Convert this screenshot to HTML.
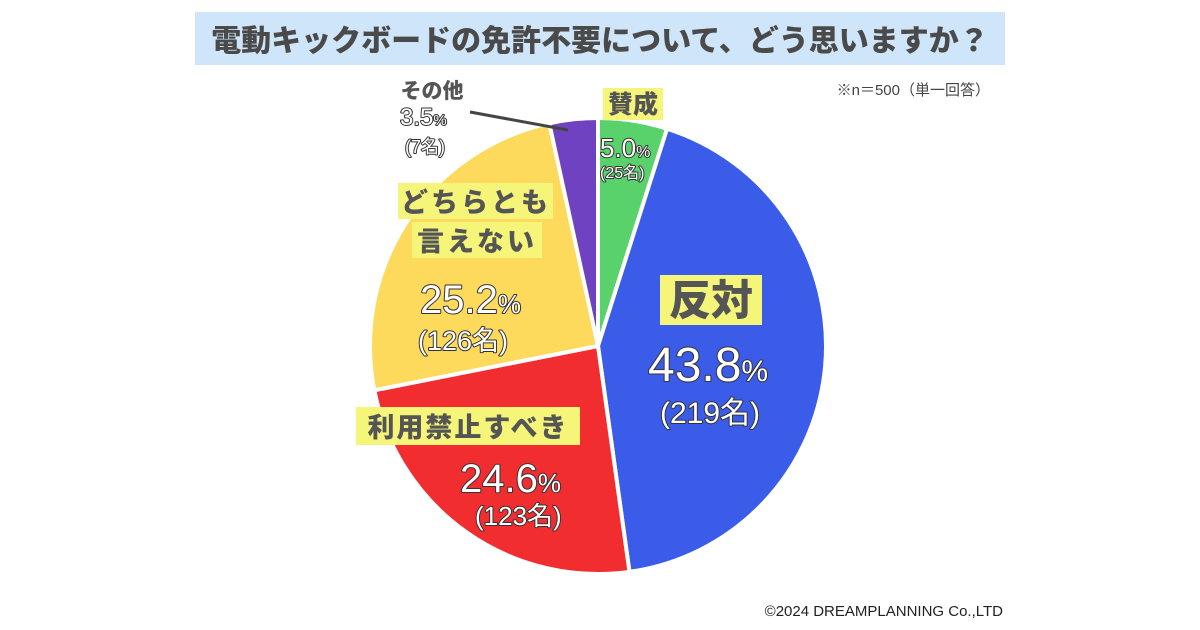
<!DOCTYPE html>
<html><head><meta charset="utf-8">
<style>
body{margin:0;width:1200px;height:630px;background:#fff;overflow:hidden;font-family:"Liberation Sans","Noto Sans CJK JP",sans-serif;}
svg{display:block}
.t{font-family:"Liberation Sans","Noto Sans CJK JP",sans-serif;}
.lab{font-weight:900;fill:#555;}
.num{fill:#fff;stroke:#333;stroke-width:2;paint-order:stroke;stroke-linejoin:round;}
</style></head><body>
<svg id="c" width="1200" height="630" viewBox="0 0 1200 630">
<rect x="195" y="12" width="810" height="53" fill="#cfe6fa"/>
<text class="t" x="600" y="51" text-anchor="middle" font-size="30" font-weight="900" fill="#4a4a4a">電動キックボードの免許不要について、どう思いますか？</text>
<text class="t" x="990" y="95" text-anchor="end" font-size="15" fill="#444">※n＝500（単一回答）</text>
<text class="t" x="1003" y="616" text-anchor="end" font-size="15" fill="#222">©2024 DREAMPLANNING Co.,LTD</text>
<g id="slices"></g>
<line x1="470" y1="112" x2="568" y2="130" stroke="#444" stroke-width="3"/>
<g id="labels">
<rect x="603" y="88" width="60" height="32" fill="#f5f57a"/>
<text class="t lab" x="633" y="113" text-anchor="middle" font-size="25">賛成</text>
<text class="t num" x="600" y="157" font-size="26">5.0<tspan font-size="16">%</tspan></text>
<text class="t num" x="600" y="178" font-size="16" stroke-width="2">(25名)</text>
<rect x="660" y="275" width="102" height="50" fill="#f5f57a"/>
<text class="t lab" x="711" y="315" text-anchor="middle" font-size="42">反対</text>
<text class="t num" x="648" y="381" font-size="48">43.8<tspan font-size="30">%</tspan></text>
<text class="t num" x="660" y="423" font-size="30">(219名)</text>
<rect x="398" y="183" width="155" height="36" fill="#f5f57a"/>
<rect x="412" y="222" width="130" height="36" fill="#f5f57a"/>
<text class="t lab" x="476" y="212" text-anchor="middle" font-size="27" letter-spacing="3">どちらとも</text>
<text class="t lab" x="477" y="251" text-anchor="middle" font-size="27" letter-spacing="3">言えない</text>
<text class="t num" x="420" y="313" font-size="40">25.2<tspan font-size="26">%</tspan></text>
<text class="t num" x="418" y="350" font-size="27">(126名)</text>
<rect x="356" y="407" width="224" height="38" fill="#f5f57a"/>
<text class="t lab" x="468" y="437" text-anchor="middle" font-size="27" letter-spacing="2">利用禁止すべき</text>
<text class="t num" x="460" y="492" font-size="40">24.6<tspan font-size="26">%</tspan></text>
<text class="t num" x="475" y="525" font-size="26">(123名)</text>
<text class="t lab" x="432" y="98" text-anchor="middle" font-size="21">その他</text>
<text class="t num" x="400" y="125" font-size="24" stroke-width="2">3.5<tspan font-size="15">%</tspan></text>
<text class="t num" x="405" y="153" font-size="18" stroke-width="2">(7名)</text>
</g>
</svg>
<script>
const categories = ["賛成","反対","利用禁止すべき","どちらとも言えない","その他"];
const values = [5.0, 43.8, 24.6, 25.2, 3.5];
const colors = ["#5ad26c","#3a5ce8","#f22d2f","#fdd95c","#6f42c1"];
const cx = 598, cy = 346, r = 228;
const total = values.reduce((a,b)=>a+b,0);
const g = document.getElementById('slices');
let acc = 0;
function pt(frac){const a = frac*2*Math.PI - Math.PI/2; return [cx + r*Math.cos(a), cy + r*Math.sin(a)];}
values.forEach((v,i)=>{
  const s = acc/total, e = (acc+v)/total; acc += v;
  const [x1,y1] = pt(s), [x2,y2] = pt(e);
  const large = (e-s) > 0.5 ? 1 : 0;
  const p = document.createElementNS('http://www.w3.org/2000/svg','path');
  p.setAttribute('d', `M${cx},${cy} L${x1},${y1} A${r},${r} 0 ${large} 1 ${x2},${y2} Z`);
  p.setAttribute('fill', colors[i]);
  p.setAttribute('stroke', '#fff');
  p.setAttribute('stroke-width', '4');
  p.setAttribute('stroke-linejoin', 'round');
  
  
  g.appendChild(p);
});
</script>
</body></html>
